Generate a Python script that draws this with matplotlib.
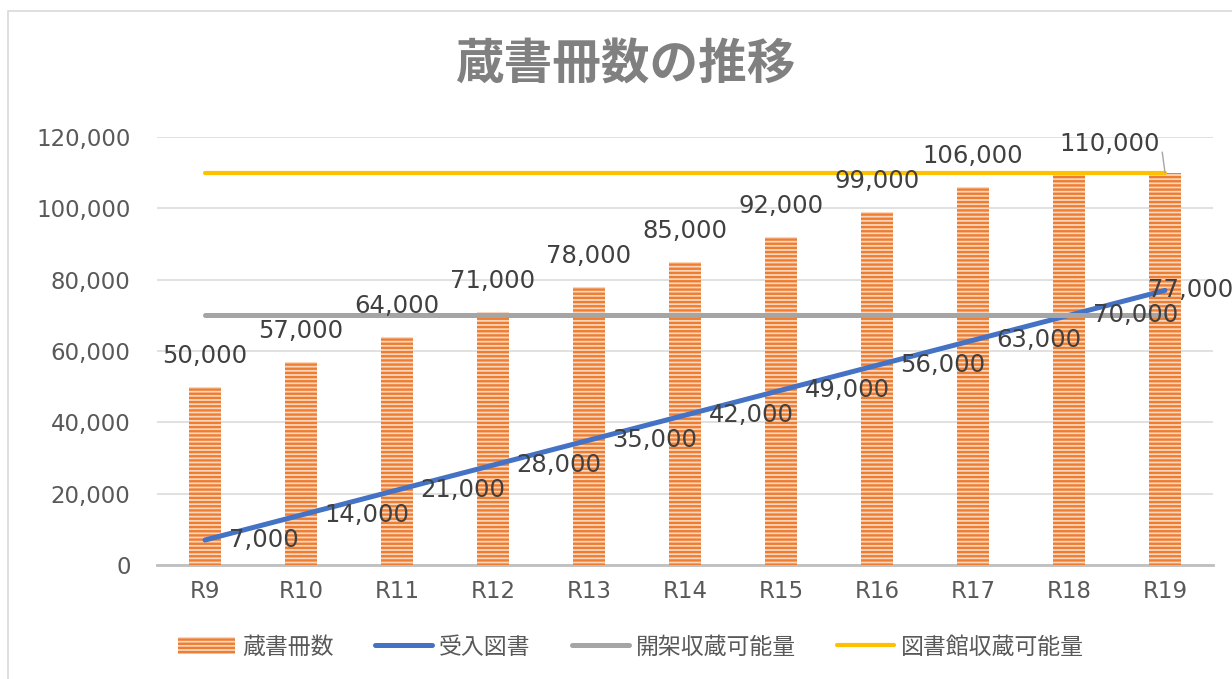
import matplotlib
matplotlib.use('Agg')
import matplotlib.pyplot as plt
from matplotlib.patches import Rectangle
from matplotlib.ticker import FuncFormatter

plt.rcParams['font.family'] = ['DejaVu Sans', 'Noto Sans CJK JP']
plt.rcParams['hatch.linewidth'] = 1.7

# データ
years = ['R9', 'R10', 'R11', 'R12', 'R13', 'R14', 'R15', 'R16', 'R17', 'R18', 'R19']
books = [50000, 57000, 64000, 71000, 78000, 85000, 92000, 99000, 106000, 110000, 110000]
accepted = [7000, 14000, 21000, 28000, 35000, 42000, 49000, 56000, 63000, 70000, 77000]
open_capacity = [70000, 70000, 70000, 70000, 70000, 70000, 70000, 70000, 70000, 70000, 70000]
library_capacity = [110000, 110000, 110000, 110000, 110000, 110000, 110000, 110000, 110000, 110000, 110000]
# 棒のラベルを表示するか (R18は非表示、R19は引き出し線付き)
book_label_shown = [True, True, True, True, True, True, True, True, True, False, False]

W, H = 1232, 679
fig = plt.figure(figsize=(W / 100, H / 100), dpi=100)
ax = fig.add_axes([157 / W, 1 - 565 / H, (1213 - 157) / W, (565 - 137) / H])

# 外枠
fig.patches.append(Rectangle((8 / W, -0.05), 1.1, 1 - 11 / H + 0.05, transform=fig.transFigure,
                             fill=False, edgecolor='#d9d9d9', linewidth=1.2, zorder=0))

x = list(range(len(years)))
ax.bar(x, books, width=0.33, facecolor='#fbd6bc', edgecolor='#ed7d31', hatch='----',
       linewidth=0, label='蔵書冊数', zorder=2)
ax.plot(x, accepted, color='#4472c4', lw=3.6, solid_capstyle='round', label='受入図書', zorder=3)
ax.plot(x, open_capacity, color='#a5a5a5', lw=3.6, solid_capstyle='round', label='開架収蔵可能量', zorder=4)
ax.plot(x, library_capacity, color='#ffc000', lw=3.0, solid_capstyle='round', label='図書館収蔵可能量', zorder=5)

label_color = '#404040'
for i, v in enumerate(books):
    if book_label_shown[i]:
        ax.annotate(f'{v:,}', (i, v), xytext=(0, 22), textcoords='offset points',
                    ha='center', va='center', fontsize=17.5, color=label_color, zorder=6)
ax.annotate(f'{books[-1]:,}', (x[-1], books[-1]), xytext=(-4, 21), textcoords='offset points',
            ha='right', va='center', fontsize=17.5, color=label_color, zorder=6,
            arrowprops=dict(arrowstyle='-', color='#a6a6a6', lw=1, relpos=(1, 1),
                            shrinkA=0, shrinkB=0))

for i, v in enumerate(accepted):
    # 右端のラベルはグラフ内に寄せる
    dx = 17 if i < len(accepted) - 1 else -12
    ax.annotate(f'{v:,}', (i, v), xytext=(dx, 0), textcoords='offset points',
                ha='left', va='center', fontsize=17.5, color=label_color, zorder=6,
                annotation_clip=False)

ax.set_xlim(-0.5, len(years) - 0.5)
ax.set_ylim(0, 120000)
ax.set_yticks(range(0, 120001, 20000))
ax.yaxis.set_major_formatter(FuncFormatter(lambda v, p: f'{int(v):,}'))
ax.set_xticks(x)
ax.set_xticklabels(years)
ax.tick_params(axis='y', length=0, pad=19, labelsize=16.5, labelcolor='#595959')
ax.tick_params(axis='x', length=0, pad=11, labelsize=16.5, labelcolor='#595959')
ax.grid(axis='y', color='#d9d9d9', lw=1.1, zorder=0)
ax.set_axisbelow(True)
for s in ['top', 'right', 'left']:
    ax.spines[s].set_visible(False)
ax.spines['bottom'].set_color('#bfbfbf')
ax.spines['bottom'].set_linewidth(2)
ax.spines['bottom'].set_zorder(1)

fig.text(625 / W, 1 - 65 / H, '蔵書冊数の推移', ha='center', va='center', fontsize=35,
         fontweight='bold', color='#808080', family=['Noto Sans CJK JP', 'DejaVu Sans'])

handles, labels = ax.get_legend_handles_labels()
order = [labels.index(n) for n in ['蔵書冊数', '受入図書', '開架収蔵可能量', '図書館収蔵可能量']]
fig.legend([handles[k] for k in order], [labels[k] for k in order], loc='center',
           bbox_to_anchor=(631 / W, 32 / H), ncol=4, frameon=False, fontsize=16.5,
           handlelength=2.5, handletextpad=0.3, columnspacing=1.8, labelcolor='#595959')

fig.savefig('out.png', dpi=100)
